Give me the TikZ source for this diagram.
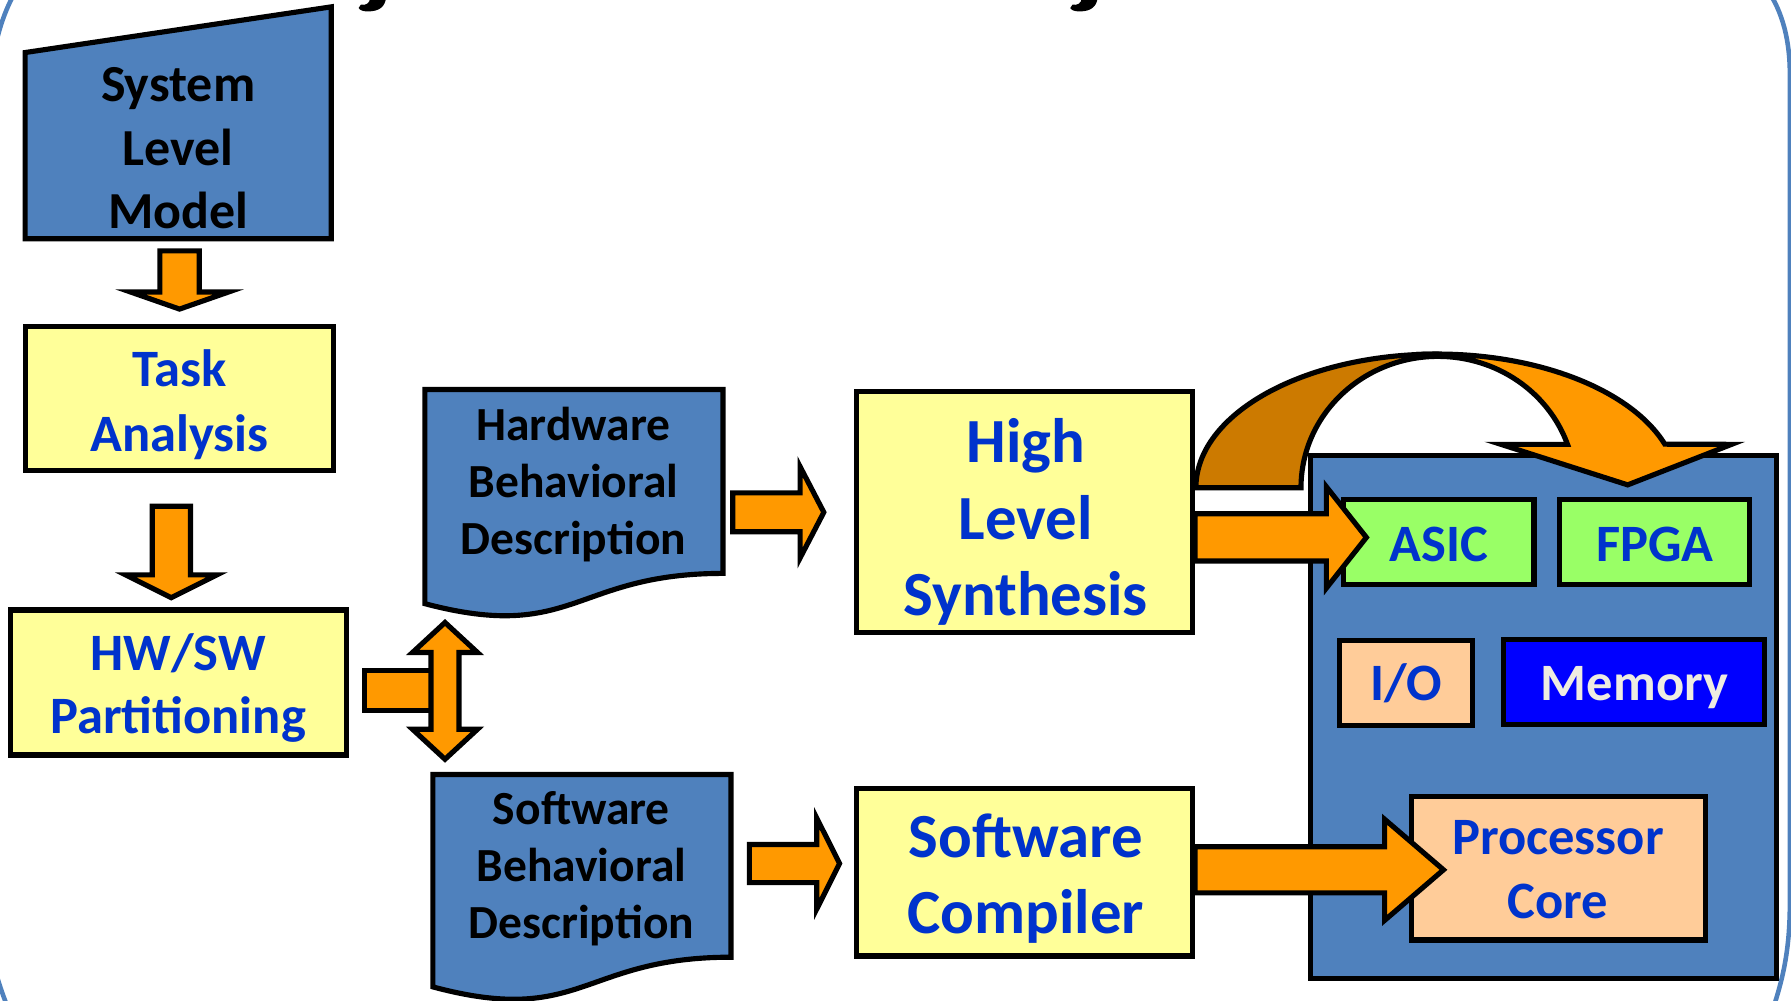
\documentclass[tikz,border=0pt]{standalone}
\usepackage{fontspec}
\setmainfont{Carlito}
\usetikzlibrary{calc}

\definecolor{docblue}{HTML}{4F81BD}
\definecolor{paleyellow}{HTML}{FFFF99}
\definecolor{arroworange}{HTML}{FF9900}
\definecolor{darkorange}{HTML}{CC7A00}
\definecolor{textblue}{HTML}{0033CC}
\definecolor{limegreen}{HTML}{99FF66}
\definecolor{peach}{HTML}{FFCC99}
\definecolor{pureblue}{HTML}{0000FF}
\definecolor{memtext}{HTML}{EEECE1}

% block arrow pointing right: start (left centre), shaft length, head length, shaft half width, head half width
\newcommand\blkright[5]{\draw[blk] #1 ++(0,-#4) -- ++(#2,0) -- ++(0,{-(#5-#4)}) -- ++(#3,#5) -- ++({-#3},#5) -- ++(0,{-(#5-#4)}) -- ++({-#2},0) -- cycle;}
% block arrow pointing down: start (top centre), shaft length, head length, shaft half width, head half width
\newcommand\blkdown[5]{\draw[blk] #1 ++(-#4,0) -- ++(0,#2) -- ++({-(#5-#4)},0) -- ++(#5,#3) -- ++(#5,{-#3}) -- ++({-(#5-#4)},0) -- ++(0,{-#2}) -- cycle;}
% label lines with fixed extents: first line, middle line, last line, single line
\newcommand\FL[1]{\rule{0pt}{.83em}\smash{#1}}
\newcommand\ML[1]{\smash{#1}}
\newcommand\LL[1]{\rule[-.17em]{0pt}{.17em}\smash{#1}}
\newcommand\SL[1]{\rule[-.17em]{0pt}{1em}\smash{#1}}

\tikzset{
  blk/.style={draw=black, line width=4.5pt, fill=arroworange, line join=miter},
  boxst/.style={draw=black, line width=4.5pt, inner sep=0pt},
  docst/.style={draw=black, line width=4.5pt, fill=docblue, line join=miter},
  lbl/.style 2 args={align=center, inner sep=0pt,
    font=\bfseries\fontsize{#1}{#2}\selectfont},
  frameline/.style={draw=docblue, line width=4pt},
}

\begin{document}
\begin{tikzpicture}[x=1pt, y=-1pt]
\useasboundingbox (0,0) rectangle (1568,876);

% rounded slide frame, only its corners fall inside the page
\draw[frameline] (-8,70) .. controls (-6,40) and (2,12) .. (14,-8);
\draw[frameline] (1545,-12) .. controls (1558,5) and (1567,30) .. (1567,65)
  -- (1567,790) .. controls (1567,835) and (1560,860) .. (1550,890);
\draw[frameline] (-8,830) .. controls (-4,855) and (2,870) .. (10,890);

% descender tails of the heading above
\fill (324,-2) -- (338,-2) .. controls (337,6) and (332,10) .. (322,10)
  .. controls (318,10) and (315,9) .. (314,7) -- (316,4) .. controls (320,5) and (324,3) .. (324,-2) -- cycle;
\fill (947,-2) -- (961,-2) .. controls (960,6) and (955,10) .. (945,10)
  .. controls (941,10) and (938,9) .. (937,7) -- (939,4) .. controls (943,5) and (947,3) .. (947,-2) -- cycle;

% system level model (manual input shape)
\draw[docst] (22,209) -- (22,46) -- (290,6) -- (290,209) -- cycle;
\coordinate (slm-bot) at (156,209);

% left column boxes
\node[boxst, fill=paleyellow, minimum width=270, minimum height=126] (task) at (157,349) {};
\node[boxst, fill=paleyellow, minimum width=294, minimum height=127] (hwsw) at (156,597.5) {};

\blkdown{($(slm-bot)+(1.2,10.6)$)}{36}{15}{17.25}{43}
\blkdown{($(task.south)+(-7,29)$)}{60}{20}{16.75}{40}

% partitioning output: stub and double-headed arrow
\draw[blk] ($(hwsw.east)+(13.9,-10.2)$) rectangle ++(60.4,34.4);
\draw[blk] (389.6,545) -- (418.1,571.3) -- (401.9,571.3) -- (401.9,638.4) -- (418.1,638.4)
  -- (389.6,664.7) -- (361.1,638.4) -- (377.3,638.4) -- (377.3,571.3) -- (361.1,571.3) -- cycle;

% behavioural descriptions (document shapes)
\draw[docst] (372,341) -- (633,341) -- (633,502) .. controls (502.5,502) and (502.5,563) .. (372,528.5) -- cycle;
\draw[docst] (379,678) -- (640,678) -- (640,838) .. controls (509.5,838) and (509.5,899) .. (379,864) -- cycle;

% synthesis / compiler boxes
\node[boxst, fill=paleyellow, minimum width=294, minimum height=211] (hls) at (897,448.5) {};
\node[boxst, fill=paleyellow, minimum width=294, minimum height=147] (sc) at (897,763.5) {};

\blkright{($(hls.west)+(-106.2,0)$)}{58.9}{20.8}{17}{40}
\blkright{($(sc.west)+(-91.7,-7.5)$)}{59}{20}{16.7}{39.8}

% target platform
\node[boxst, fill=docblue, minimum width=408, minimum height=458.5] (plat) at (1351,627.75) {};
\node[boxst, fill=limegreen, minimum width=167, minimum height=75] (asic) at (1259.5,474.5) {};
\node[boxst, fill=limegreen, minimum width=167, minimum height=75] (fpga) at (1448.5,474.5) {};
\node[boxst, fill=peach, minimum width=116, minimum height=74] (io) at (1231,598) {};
\node[boxst, fill=pureblue, minimum width=229, minimum height=74] (mem) at (1430.5,597) {};
\node[boxst, fill=peach, minimum width=257, minimum height=126] (proc) at (1364.5,760) {};

% curved arrow over the platform: shaded back part, then front part with head
\draw[blk, fill=darkorange] (1047,427) arc[start angle=180, end angle=270, x radius=211, y radius=117]
  -- (1259,312) arc[start angle=270, end angle=180, x radius=120, y radius=115] -- cycle;
\draw[blk] (1239.6,310.4) arc[start angle=265, end angle=341, x radius=211, y radius=117]
  -- (1516,389) -- (1425,424.5) -- (1314,389) -- (1372.3,389)
  arc[start angle=340.7, end angle=270, x radius=120, y radius=115] -- cycle;

\blkright{($(hls.east)+(0,22)$)}{115}{35}{20.7}{44.3}
\blkright{($(sc.east)+(0,-2)$)}{166}{51.5}{20.2}{44.2}

% labels
\node[lbl={45.5}{55.5}] (slm-t) at (156,129.5) {\FL{System}\\\ML{Level}\\\LL{Model}};
\node[lbl={46}{57}, text=textblue] (task-t) at (157,351.5) {\FL{Task}\\\LL{Analysis}};
\node[lbl={46}{55}, text=textblue] (hwsw-t) at (156,599.5) {\FL{HW/SW}\\\LL{Partitioning}};
\node[lbl={41.6}{50}] (hbd-t) at (502,422) {\FL{Hardware}\\\ML{Behavioral}\\\LL{Description}};
\node[lbl={41.6}{50}] (sbd-t) at (509,758) {\FL{Software}\\\ML{Behavioral}\\\LL{Description}};
\node[lbl={55}{67}, text=textblue] (hls-t) at (898,454) {\FL{High}\\\ML{Level}\\\LL{Synthesis}};
\node[lbl={55}{66}, text=textblue] (sc-t) at (898,766) {\FL{Software}\\\LL{Compiler}};
\node[lbl={46}{56}, text=textblue] (asic-t) at (1260,476) {\SL{ASIC}};
\node[lbl={46}{56}, text=textblue] (fpga-t) at (1449,476) {\SL{FPGA}};
\node[lbl={46}{56}, text=textblue] (io-t) at (1231,598) {\SL{I/O}};
\node[lbl={46}{56}, text=memtext] (mem-t) at (1431,598) {\SL{Memory}};
\node[lbl={46}{56}, text=textblue] (proc-t) at (1364,761) {\FL{Processor}\\\LL{Core}};
\end{tikzpicture}
\end{document}
